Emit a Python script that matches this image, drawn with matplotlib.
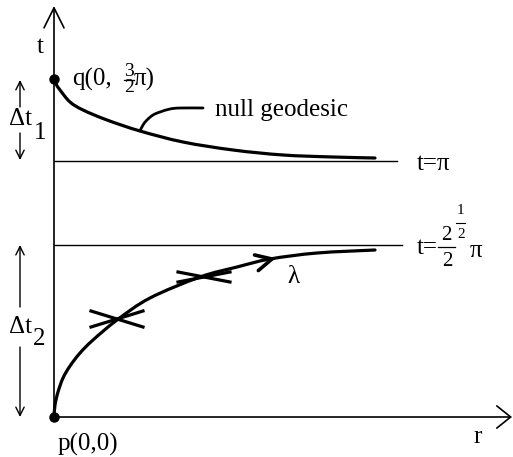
# spacetime diagram: null geodesic and curve lambda

import matplotlib
matplotlib.use("Agg")
import matplotlib.pyplot as plt
import numpy as np
from matplotlib.path import Path
from matplotlib.patches import PathPatch

plt.rcParams['font.family'] = ['Liberation Serif', 'DejaVu Serif']

# ======================
# DATA (r, t in drawing units, origin at p)
# ======================
q_t = 338
t_pi = 256
t_half = 172
line_end_r = 343
r_max = 458
t_max = 411

null_r = [0, 2, 6, 16, 29, 53, 86, 129, 179, 229, 279, 321]
null_t = [338, 333, 327, 315, 307, 297, 286, 275, 267, 262, 260, 259]

pointer_r = [86, 89, 93, 99, 106, 116, 126, 149]
pointer_t = [286, 292, 297, 302, 305, 308, 309, 309]

lam_r = [0, 1, 4, 9, 16, 26, 39, 63, 96, 146, 183, 216, 263, 321]
lam_t = [0, 12, 25, 39, 51, 64, 77, 97, 119, 140, 150, 158, 164, 167]

cross_r = [63, 150]
cross_t = [98, 140]
cross_dt = [8, 5]

arrow_tip = (218, 158)
arrow_dir = (33, 8)

dt_r = -34


def smooth(xs, ys):
    # catmull-rom through the read points, drawn as cubic bezier
    p = np.column_stack([xs, ys]).astype(float)
    p = np.vstack([p[0], p, p[-1]])
    verts = [p[1]]
    codes = [Path.MOVETO]
    for i in range(1, len(p) - 2):
        c1 = p[i] + (p[i + 1] - p[i - 1]) / 6
        c2 = p[i + 1] - (p[i + 2] - p[i]) / 6
        verts += [c1, c2, p[i + 1]]
        codes += [Path.CURVE4] * 3
    return Path(verts, codes)


# ======================
# FIGURE
# ======================
fig = plt.figure(figsize=(5.13, 4.57), dpi=100)
ax = fig.add_axes([0, 0, 1, 1])
ax.set_xlim(-54, 459)
ax.set_ylim(-40, 417)
ax.axis('off')

k = 'black'

# axes with open arrowheads
ax.annotate('', xy=(0, t_max), xytext=(0, 0),
            arrowprops=dict(arrowstyle='->,head_length=0.72,head_width=0.36',
                            mutation_scale=20, lw=1.2, color=k, shrinkA=0, shrinkB=0))
ax.annotate('', xy=(r_max, 0), xytext=(0, 0),
            arrowprops=dict(arrowstyle='->,head_length=0.5,head_width=0.4',
                            mutation_scale=20, lw=1.2, color=k, shrinkA=0, shrinkB=0))

# level lines
ax.plot([0, line_end_r], [t_pi, t_pi], color=k, lw=1.0)
ax.plot([0, line_end_r + 5], [t_half, t_half], color=k, lw=1.0)

# curves
for xs, ys, w in [(null_r, null_t, 2.3), (pointer_r, pointer_t, 2.0), (lam_r, lam_t, 2.3)]:
    ax.add_patch(PathPatch(smooth(xs, ys), fill=False, lw=w, color=k, capstyle='round'))

# crosses on lambda
for cr, ct, dt in zip(cross_r, cross_t, cross_dt):
    ax.plot([cr - 26, cr + 26], [ct + dt, ct - dt], color=k, lw=2.3)
    ax.plot([cr - 26, cr + 26], [ct - dt, ct + dt], color=k, lw=2.3)

# direction arrow on lambda (open V)
u = np.array(arrow_dir, float)
u /= np.hypot(*u)
n = np.array([-u[1], u[0]])
tip = np.array(arrow_tip, float)
arm1 = tip - 16 * u + 8 * n
arm2 = tip - 16 * u - 8 * n
ax.plot([arm1[0], tip[0], arm2[0]], [arm1[1], tip[1], arm2[1]], color=k, lw=2.6,
        solid_joinstyle='miter', solid_capstyle='round')

# points p and q
ax.plot([0, 0], [0, q_t], 'o', color=k, ms=6.5)

# delta t arrows
arw = dict(arrowstyle='->,head_length=0.5,head_width=0.25', mutation_scale=12,
           lw=1.0, color=k, shrinkA=0, shrinkB=0)
ax.annotate('', xy=(dt_r, q_t - 1), xytext=(dt_r, 310), arrowprops=arw)
ax.annotate('', xy=(dt_r, t_pi + 1), xytext=(dt_r, 284), arrowprops=arw)
ax.annotate('', xy=(dt_r, t_half), xytext=(dt_r, 110), arrowprops=arw)
ax.annotate('', xy=(dt_r, 0), xytext=(dt_r, 70), arrowprops=arw)

# ======================
# LABELS
# ======================
fs = 18
ax.text(-14, 370, 't', fontsize=fs, ha='center', va='center')
ax.text(424, -20, 'r', fontsize=fs, ha='center', va='center')

# q(0, 3/2 pi)
ax.text(18, q_t, 'q(0,', fontsize=fs, ha='left', va='center')
ax.text(75, q_t + 7, '3', fontsize=14, ha='center', va='center')
ax.plot([70, 80], [q_t - 1, q_t - 1], color=k, lw=0.9)
ax.text(75, q_t - 9, '2', fontsize=14, ha='center', va='center')
ax.text(80, q_t, 'π)', fontsize=fs, ha='left', va='center')

ax.text(161, 307, 'null geodesic', fontsize=fs, ha='left', va='center')
ax.text(363, t_pi - 3, 't=π', fontsize=fs, ha='left', va='center')

# t = 2^(1/2)/2 pi
ax.text(363, t_half - 3, 't=', fontsize=fs, ha='left', va='center')
ax.text(392, t_half + 10, '2', fontsize=15, ha='center', va='center')
ax.plot([384, 401], [t_half - 2, t_half - 2], color=k, lw=0.9)
ax.text(393, t_half - 16, '2', fontsize=15, ha='center', va='center')
ax.text(406, t_half + 35, '1', fontsize=11, ha='center', va='center')
ax.plot([402, 411], [t_half + 22, t_half + 22], color=k, lw=0.8)
ax.text(407, t_half + 10, '2', fontsize=11, ha='center', va='center')
ax.text(422, t_half - 6, 'π', fontsize=fs, ha='center', va='center')

ax.text(239, 140, 'λ', fontsize=fs, ha='center', va='center')
ax.text(dt_r, 298, 'Δt', fontsize=fs, ha='center', va='center')
ax.text(-14, 284, '1', fontsize=fs, ha='center', va='center')
ax.text(dt_r, 90, 'Δt', fontsize=fs, ha='center', va='center')
ax.text(-15, 78, '2', fontsize=fs, ha='center', va='center')
ax.text(4, -27, 'p(0,0)', fontsize=fs, ha='left', va='center')

fig.savefig('out.png', dpi=100)
